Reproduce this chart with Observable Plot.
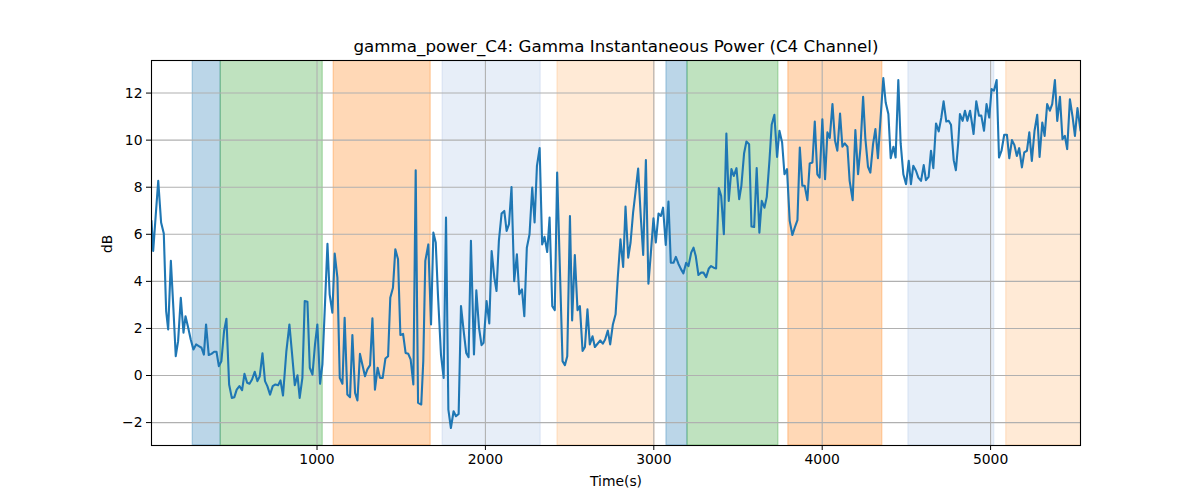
<!DOCTYPE html>
<html>
<head>
<meta charset="utf-8">
<script src="https://cdn.jsdelivr.net/npm/d3@7"></script>
<script src="https://cdn.jsdelivr.net/npm/@observablehq/plot@0.6"></script>
<style>
  html, body { margin: 0; padding: 0; background: white; }
  svg { display: block; }
</style>
</head>
<body>
<div id="chart"></div>
<script>
const titleText = "gamma_power_C4: Gamma Instantaneous Power (C4 Channel)";
const xLabel = "Time(s)";
const yLabel = "dB";
const xTicks = [1000, 2000, 3000, 4000, 5000];
const yTicks = [-2, 0, 2, 4, 6, 8, 10, 12];

// shaded periods (seconds)
const bandStart = [262, 428, 1099, 1746, 2428, 3075, 3200, 3799, 4512, 5093];
const bandEnd   = [428, 1034, 1675, 2328, 3004, 3200, 3740, 4357, 5022, 5600];
const bandKind  = ["k1", "k2", "k3", "k4", "k5", "k1", "k2", "k3", "k4", "k5"];

// time series
const times = [17,27,42,57,74,90,104,116,132,147,161,175,191,207,219,235,250,266,282,298,314,328,341,357,373,389,403,417,432,448,462,478,494,509,523,539,555,569,585,599,614,630,646,660,676,691,705,721,737,753,769,783,798,
818,836,852,868,884,897,913,927,943,957,973,988,1002,1018,1032,1048,1062,1075,1091,1105,1121,1135,1151,1164,1180,1196,1210,1226,1240,1255,1269,1285,1299,1315,1329,1344,1360,1374,1390,1406,1422,1435,1451,1465,1481,1495,1511,1526,1542,1556,1572,1586,1600,
1619,1631,1643,1661,1677,1691,1705,1718,1736,1752,1766,1780,1795,1811,1825,1841,1855,1871,1886,1900,1914,1932,1946,1962,1977,1989,2007,2023,2037,2053,2066,2080,2096,2112,2126,2140,2155,2171,2187,2201,2217,2231,2246,2262,2278,2292,2306,2322,2337,2351,2367,2381,2397,
2412,2426,2442,2458,2472,2486,2502,2515,2531,2547,2561,2577,2591,2606,2620,2636,2650,2666,2682,2697,2711,2727,2741,2757,2773,2786,2802,2818,2832,2848,2862,2877,2891,2907,2923,2937,2953,2968,2982,2998,3012,3028,3042,3055,3071,3087,3101,3117,3131,3146,3162,3176,3192,3206,
3222,3236,3249,3265,3281,3295,3311,3327,3340,3356,3370,3386,3400,3416,3431,3445,3461,3475,3491,3507,3520,3536,3550,3566,3580,3596,3611,3627,3641,3657,3671,3687,3700,3716,3732,3746,3762,3776,3791,3807,3823,3837,3853,3867,3882,3896,3912,3926,3942,3956,3971,3985,4001,
4017,4031,4045,4061,4076,4090,4106,4120,4134,4150,4163,4181,4197,4213,4227,4243,4256,4272,4286,4302,4316,4331,4347,4363,4377,4393,4407,4423,4436,4452,4466,4482,4498,4514,4527,4541,4557,4571,4587,4603,4616,4632,4646,4660,4676,4692,4707,4721,4737,4751,4765,4781,4794,4808,
4818,4834,4848,4862,4878,4889,4899,4915,4931,4945,4961,4976,4992,5006,5020,5036,5050,5065,5081,5097,5111,5127,5141,5156,5170,5186,5200,5216,5230,5245,5261,5277,5291,5307,5321,5336,5352,5366,5382,5396,5412,5427,5441,5455,5471,5487,5501,5516,5534];

const power = [6.57,5.29,6.8,8.27,6.50,6.03,2.74,1.96,4.87,2.85,0.82,1.46,3.30,1.82,2.52,2.03,1.53,1.11,1.32,1.25,1.18,0.89,2.17,0.87,0.92,1.01,1.01,0.40,0.61,1.89,2.41,-0.38,-0.95,-0.92,-0.60,-0.45,-0.62,0.07,-0.31,-0.35,-0.17,0.16,-0.24,-0.03,0.94,-0.24,-0.45,-0.81,-0.45,-0.38,-0.41,-0.21,-0.85,
1.04,2.17,0.9,-0.41,0.01,-0.95,-0.10,3.16,3.13,0.33,0.04,1.32,2.17,-0.35,0.47,3.16,5.60,3.45,2.67,5.18,4.16,-0.10,-0.35,2.45,-0.81,-0.92,1.72,-0.74,-1.06,0.92,0.47,-0.03,0.26,0.44,2.43,-0.60,0.33,-0.10,-0.10,0.72,0.82,3.30,3.73,5.36,4.94,1.72,1.77,0.96,0.92,0.68,-0.38,8.72,-1.16,
-1.23,0.61,4.87,5.57,2.17,6.07,5.65,3.45,0.89,-0.10,6.71,-1.45,-2.23,-1.52,-1.73,-1.63,2.95,1.89,0.96,0.78,5.72,0.89,3.62,2.03,1.29,1.39,3.16,2.21,5.29,4.16,3.59,5.72,6.88,6.99,6.14,6.43,8.01,4.01,5.15,3.45,3.66,2.52,5.43,6.00,7.99,6.50,8.91,9.66,5.57,5.89,5.25,6.71,2.95,
2.78,8.62,4.6,0.61,0.44,0.82,6.78,2.34,5.12,2.77,2.95,1.04,1.21,2.81,1.32,1.67,1.21,1.35,1.49,1.35,1.53,1.91,1.32,2.17,2.60,4.16,5.79,4.61,7.18,5.01,5.65,6.92,7.77,8.79,6.71,5.12,9.15,3.90,5.15,6.68,5.65,6.88,6.78,7.13,5.55,7.39,4.79,4.79,5.04,4.75,4.51,4.34,4.79,4.65,
5.22,5.43,5.08,4.27,4.37,4.37,4.18,4.55,4.65,4.58,4.55,7.96,7.63,6.00,10.28,7.42,8.77,8.48,8.81,7.49,8.06,9.43,9.94,9.83,6.33,6.31,8.81,6.07,7.42,7.13,7.59,9.15,10.65,11.08,9.29,10.40,9.90,8.55,8.77,6.57,5.97,6.28,6.60,9.69,8.06,8.06,7.45,9.01,9.05,10.79,8.55,8.41,10.89,
8.34,10.33,10.09,11.53,9.98,9.55,11.13,9.72,9.86,9.72,8.27,7.45,10.43,8.55,9.66,11.84,10.1,8.87,8.62,9.83,10.47,9.23,10.96,12.64,11.60,11.11,9.23,9.72,9.26,12.55,9.86,8.55,8.13,9.12,8.13,8.91,8.70,8.41,8.27,8.94,8.30,8.44,9.55,8.81,10.71,10.37,10.94,11.65,10.79,10.82,10.65,9.15,8.72,9.9,
11.11,10.82,11.25,10.82,11.25,10.75,10.26,11.65,11.04,11.04,10.40,11.53,10.96,12.17,12.10,12.55,9.26,9.55,10.23,10.23,9.23,10.00,9.80,9.33,9.66,8.84,9.48,9.55,10.33,9.12,10.40,11.08,9.29,10.75,10.18,11.53,11.25,11.53,12.55,10.82,11.84,10.04,10.18,9.62,11.74,10.99,10.18,11.36,10.40];

const series = times.map((t, i) => ({t, v: power[i]}));
const bands = bandStart.map((s, i) => ({s, e: bandEnd[i], k: bandKind[i]}));
const xDomain = [times[0], times[times.length - 1]];
const vmin = d3.min(power), vmax = d3.max(power), pad = (vmax - vmin) * 0.05;

const fmt = d3.format("d");

const chart = Plot.plot({
  width: 1200,
  height: 500,
  marginLeft: 151,
  marginRight: 120,
  marginTop: 60,
  marginBottom: 55,
  style: {fontFamily: "DejaVu Sans, sans-serif", fontSize: "13.9px", color: "black", background: "white"},
  x: {domain: xDomain},
  y: {domain: [vmin - pad, vmax + pad]},
  color: {domain: ["k1", "k2", "k3", "k4", "k5"], range: ["#1f77b4", "#2ca02c", "#ff7f0e", "#aec7e8", "#ffbb78"]},
  marks: [
    Plot.rect(bands, {x1: "s", x2: "e", fill: "k", stroke: "k", fillOpacity: 0.3, strokeOpacity: 0.3, strokeWidth: 1.3, clip: true}),
    Plot.gridX(xTicks, {stroke: "#b0b0b0", strokeOpacity: 1, strokeWidth: 1.1}),
    Plot.gridY(yTicks, {stroke: "#b0b0b0", strokeOpacity: 1, strokeWidth: 1.1}),
    Plot.line(series, {x: "t", y: "v", stroke: "#1f77b4", strokeWidth: 2.1, clip: true}),
    Plot.frame({stroke: "black", strokeWidth: 1.1}),
    Plot.axisX(xTicks, {tickSize: 5, tickPadding: 4, tickFormat: fmt, label: null, fontSize: 13.9}),
    Plot.axisY(yTicks, {tickSize: 5, tickPadding: 4, tickFormat: fmt, label: null, fontSize: 13.9}),
    Plot.text([titleText], {frameAnchor: "top", dy: -14, lineAnchor: "middle", fontSize: 16.7}),
    Plot.text([xLabel], {frameAnchor: "bottom", dy: 36, lineAnchor: "middle", fontSize: 13.9}),
    Plot.text([yLabel], {frameAnchor: "left", dx: -44, rotate: -90, lineAnchor: "middle", fontSize: 13.9})
  ]
});
document.getElementById("chart").appendChild(chart);
</script>
</body>
</html>
